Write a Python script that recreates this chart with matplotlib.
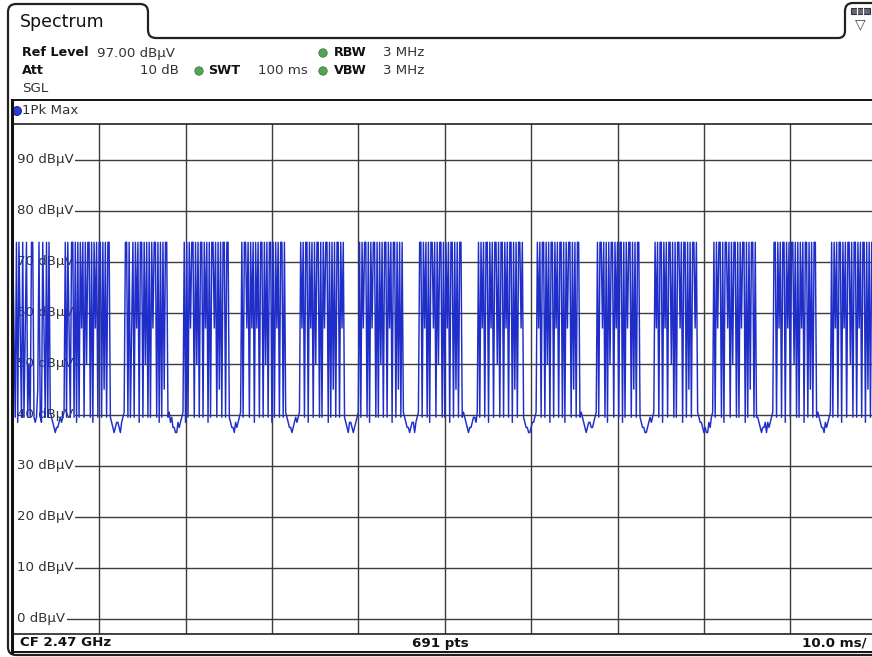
import numpy as np
import matplotlib
matplotlib.use("Agg")
import matplotlib.pyplot as plt
from matplotlib.lines import Line2D
from matplotlib.patches import Circle, PathPatch, Rectangle
from matplotlib.path import Path

W, H = 872, 657

# --- instrument settings shown in the header / footer ---
tab_title = "Spectrum"
ref_level = "97.00 dBµV"
att = "10 dB"
swt = "100 ms"
rbw = "3 MHz"
vbw = "3 MHz"
trace_name = "1Pk Max"
center_freq = "CF 2.47 GHz"
points_label = "691 pts"
time_per_div = "10.0 ms/"

# --- axes ---
y_min, y_max = -3, 97
y_ticks = [0, 10, 20, 30, 40, 50, 60, 70, 80, 90]
sweep_ms = 100
x_grid = [10, 20, 30, 40, 50, 60, 70, 80, 90]

# --- trace: one character per sweep point (691 pts) ---
LEVELS = {'H': 73.8, 'm': 57.0, 'k': 50.0, 'j': 45.0,
          '0': 40.5, '9': 39.5, '8': 38.5, '7': 37.5, '6': 36.5}

trace_segments = [
    "Hm9H8Hm9H9mH9k9HH989jH98Hm9H9H",         # burst 1
    "098767789890",
    "H9Hm9HH9H8H9HmH9HkHH9H8HmH9HH9HjH9HH",   # burst 2
    "987678876890",
    "HH9H9mH9HmH8HH9HkH9H9HmHH9H8H9HjHH9",    # burst 3
    "089776687890",
    "H8H9HmHH9HkH9HH9HmH8H9HHmH9HjH9HH9HH",   # burst 4
    "9877687890",
    "H9HHmH9HmH8HmH9HH9HkH9HH8H9HmH9HH9H",    # burst 5
    "098776789890",
    "HmH9HH8HmH9HkHH9H9HmHH8H9HjH9HH9HmH",    # burst 6
    "987688767890",
    "H9HmHH9H8HmHH9H9HkH9HH9HmH8HH9HjH9H",    # burst 7
    "0987767886890",
    "HH9HmH9H8HHmH9HkHH9H9HmH8HH9HjH9HH9",    # burst 8
    "098767789980",
    "H9HmH9HH8HmH9HHkH9HH9HmH9HH8HjH9HHmH",   # burst 9
    "98776678890",
    "HmH9HH9HkH8HH9HmH9HH9H8HmHH9HjH9HH9",    # burst 10
    "0987678877890",
    "H9HHmH9H8HkHH9HmH9HH8H9HmHH9HjH9HH",     # burst 11
    "987766789890",
    "HmH9HH8HmH9HHkH9H9HHmH8HH9HjH9HHmH",     # burst 12
    "0988767668790",
    "H9HmHH9H8HHmH9HkHH9H9HmHH8H9HjHH9H9",    # burst 13
    "9876778687890",
    "HH9HmH9HH8HmH9HHkH9H9HmH8HH9HjH9HH9",    # burst 14
    "09877687890",
    "H9HmH9HH8HmH9HHkH9HH9HmH9HH8HjH9HHmH9",  # burst 15
]

trace = np.array([LEVELS[c] for c in "".join(trace_segments)])
t = np.linspace(0, sweep_ms, len(trace))

fig = plt.figure(figsize=(W / 100, H / 100), dpi=100)
fig.patch.set_facecolor("white")

# decoration layer in pixel coordinates (y grows downward)
deco = fig.add_axes([0, 0, 1, 1], zorder=0)
deco.set_xlim(0, W)
deco.set_ylim(H, 0)
deco.axis("off")


def fx(x):
    return x / W


def fy(y):
    return 1 - y / H


# outer frame with the "Spectrum" tab and the small icon tab
verts = [(880, 655), (16, 655), (8, 655), (8, 647), (8, 12), (8, 4), (16, 4),
         (140, 4), (148, 4), (148, 12), (148, 30), (148, 38), (156, 38),
         (838, 38), (845, 38), (845, 31), (845, 11), (845, 3), (853, 3), (880, 3)]
codes = [Path.MOVETO, Path.LINETO, Path.CURVE3, Path.CURVE3, Path.LINETO,
         Path.CURVE3, Path.CURVE3, Path.LINETO, Path.CURVE3, Path.CURVE3,
         Path.LINETO, Path.CURVE3, Path.CURVE3, Path.LINETO, Path.CURVE3,
         Path.CURVE3, Path.LINETO, Path.CURVE3, Path.CURVE3, Path.LINETO]
deco.add_patch(PathPatch(Path(verts, codes), fill=False, lw=1.6, ec="#222222"))

# plot box (trace label row + grid + footer)
deco.plot([12, 880], [100, 100], color="#111111", lw=1.4)
deco.plot([12, 880], [652, 652], color="#111111", lw=1.4)
fig.add_artist(Line2D([fx(12), fx(12)], [fy(100), fy(652)], color="#111111",
                      lw=2.2, zorder=5))

# icon in the small tab
deco.add_patch(Rectangle((851, 8), 19, 6, fc="#666677", ec="#333344", lw=0.8))
for xx in (857, 863):
    deco.plot([xx, xx], [8, 14], color="white", lw=0.8)
deco.text(860, 24, "▽", fontsize=10, ha="center", va="center", color="#444444")

deco.text(20, 22, tab_title, fontsize=12.5, ha="left", va="center", color="#111111")

hdr = dict(fontsize=9.6, va="center", color="#333333")
bold = dict(fontsize=9.2, va="center", color="#111111", fontweight="bold")
deco.text(22, 53, "Ref Level", ha="left", **bold)
deco.text(97, 53, ref_level, ha="left", **hdr)
deco.text(22, 71, "Att", ha="left", **bold)
deco.text(179, 71, att, ha="right", **hdr)
deco.text(22, 89, "SGL", ha="left", **hdr)
deco.text(208, 71, "SWT", ha="left", **bold)
deco.text(258, 71, swt, ha="left", **hdr)
deco.text(334, 53, "RBW", ha="left", **bold)
deco.text(383, 53, rbw, ha="left", **hdr)
deco.text(334, 71, "VBW", ha="left", **bold)
deco.text(383, 71, vbw, ha="left", **hdr)
for cx, cy in [(323, 53), (199, 71), (323, 71)]:
    deco.add_patch(Circle((cx, cy), 4.2, fc="#55a455", ec="#3d7f3d", lw=0.6))

deco.add_patch(Circle((17, 111), 4.5, fc="#2a3ad6", ec="#101a80", lw=0.6))
deco.text(22, 111, trace_name, fontsize=9.6, ha="left", va="center", color="#333333")

foot = dict(fontsize=9.6, va="center", color="#111111", fontweight="bold")
deco.text(20, 643, center_freq, ha="left", **foot)
deco.text(440, 643, points_label, ha="center", **foot)
deco.text(866, 643, time_per_div, ha="right", **foot)

# measurement grid
top_px, bot_px = 124, 634
ax = fig.add_axes([fx(12.7), fy(bot_px), (876.7 - 12.7) / W, (bot_px - top_px) / H],
                  zorder=1)
ax.set_xlim(0, sweep_ms)
ax.set_ylim(y_min, y_max)
ax.set_xticks([])
ax.set_yticks([])
ax.set_facecolor("white")
for side in ("top", "bottom"):
    ax.spines[side].set_linewidth(1.2)
    ax.spines[side].set_color("#222222")
ax.spines["left"].set_visible(False)
ax.spines["right"].set_visible(False)

ytrans = ax.get_yaxis_transform()
for xv in x_grid:
    ax.axvline(xv, color="#3c3c3c", lw=1.0, zorder=1)
for yv in y_ticks:
    ax.axhline(yv, color="#3c3c3c", lw=1.0, zorder=1)
    ax.add_patch(Rectangle((0, yv - 1.5), 0.01, 3, transform=ytrans,
                           fc="white", ec="none", zorder=2))
    ax.text(0.005, yv, f"{yv} dBµV", transform=ytrans,
            fontsize=9.6, ha="left", va="center", color="#333333", zorder=2,
            bbox=dict(fc="white", ec="none", pad=1.2))

ax.plot(t, trace, color="#1f2ec8", lw=1.05, zorder=3)

fig.savefig("out.png", dpi=100)
